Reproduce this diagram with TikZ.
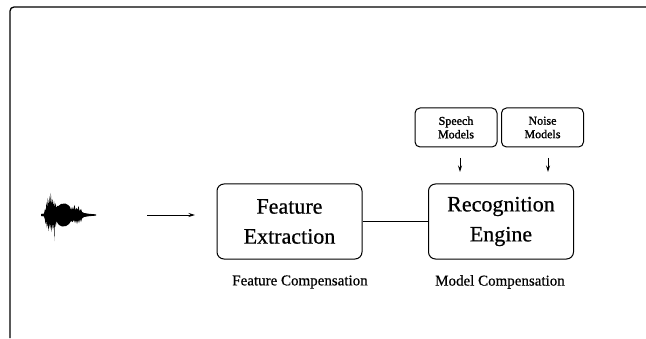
\documentclass[tikz,border=0pt]{standalone}
\usepackage{fontspec}
\setmainfont{Liberation Serif}
\newfontfamily\inkserif{Liberation Serif}[FakeBold=0.6]
\newfontfamily\inkserifheavy{Liberation Serif}[FakeBold=1.4]
\usetikzlibrary{arrows.meta}

\begin{document}
\begin{tikzpicture}[x=1pt, y=1pt, line width=1pt,
  block/.style={draw, rounded corners=7pt, minimum width=145pt, minimum height=75pt,
    align=center, inner sep=0pt, font=\inkserif\fontsize{22}{30}\selectfont},
  modelbox/.style={draw, rounded corners=5pt, minimum width=82pt, minimum height=39pt,
    align=center, inner sep=0pt, font=\inkserifheavy\fontsize{12}{13.5}\selectfont},
  caption/.style={inner sep=0pt, font=\inkserif\fontsize{15}{18}\selectfont},
  flow/.style={-{Stealth[length=6.5pt, width=4pt]}, line width=0.9pt}]
\useasboundingbox (0,0) rectangle (646,338);

% page frame (open at right and bottom)
\draw[line width=1.3pt, rounded corners=4pt] (10,0) -- (10,331) -- (646,331);

% speech waveform
\begin{scope}[shift={(41,123)}]
  \fill[black]
    (0,1) -- (3,1.5) -- (4,6) -- (4.8,4) -- (5.4,13) -- (6.1,7) -- (6.8,17) -- (7.5,9)
    -- (8.3,19) -- (9,10) -- (9.8,22) -- (10.6,11) -- (11.4,16) -- (12.2,9) -- (13,14)
    -- (13.8,8) -- (14.6,12) -- (15.4,7) -- (16.3,9) -- (17.5,9) -- (20,11) -- (24,11.5)
    -- (27,10) -- (29,8) -- (30,5) -- (31,8) -- (32,5) -- (33.5,10) -- (34.5,5)
    -- (35.5,7) -- (36.5,5) -- (37.5,9) -- (38.5,4) -- (40,6) -- (41,3) -- (43,2)
    -- (48,1.2) -- (55,0.6)
    -- (55,-0.6) -- (48,-1.2) -- (43,-2) -- (41,-3.5) -- (40,-7) -- (39,-4)
    -- (38,-8) -- (37,-5) -- (36,-9) -- (35,-5) -- (34,-8) -- (33,-5) -- (31.5,-7)
    -- (30,-6) -- (28,-9) -- (25,-11) -- (21,-11.5) -- (18,-10) -- (16.5,-8) -- (15.6,-6)
    -- (14.7,-12) -- (13.9,-6) -- (13.4,-26) -- (12.8,-6) -- (12.1,-15) -- (11.4,-8)
    -- (10.7,-17) -- (9.9,-9) -- (9.1,-14) -- (8.3,-8) -- (7.5,-16) -- (6.7,-8)
    -- (5.9,-13) -- (5.2,-6) -- (4.5,-9) -- (3.8,-4) -- (3,-1.5) -- (0,-1) -- cycle;
\end{scope}

% processing blocks
\node[block] (fe) at (289.5,116.5) {Feature\\Extraction};
\node[block] (re) at (501,116.5) {Recognition\\Engine};
\node[modelbox] (sm) at (456,210.5) {Speech\\Models};
\node[modelbox] (nm) at (542.5,210.5) {Noise\\Models};

\node[caption] (fc) at (300,56) {Feature Compensation};
\node[caption] (mc) at (500,56) {Model Compensation};

% connectors
\coordinate (in0) at (147,123);
\coordinate (in1) at (195,123);
\draw[flow] (in0) -- (in1);
\draw (fe.east) -- (re.west);

\coordinate (s0) at (460,180);
\coordinate (s1) at (460,166);
\coordinate (n0) at (548,180);
\coordinate (n1) at (548,166);
\draw[flow] (s0) -- (s1);
\draw[flow] (n0) -- (n1);
\end{tikzpicture}
\end{document}
